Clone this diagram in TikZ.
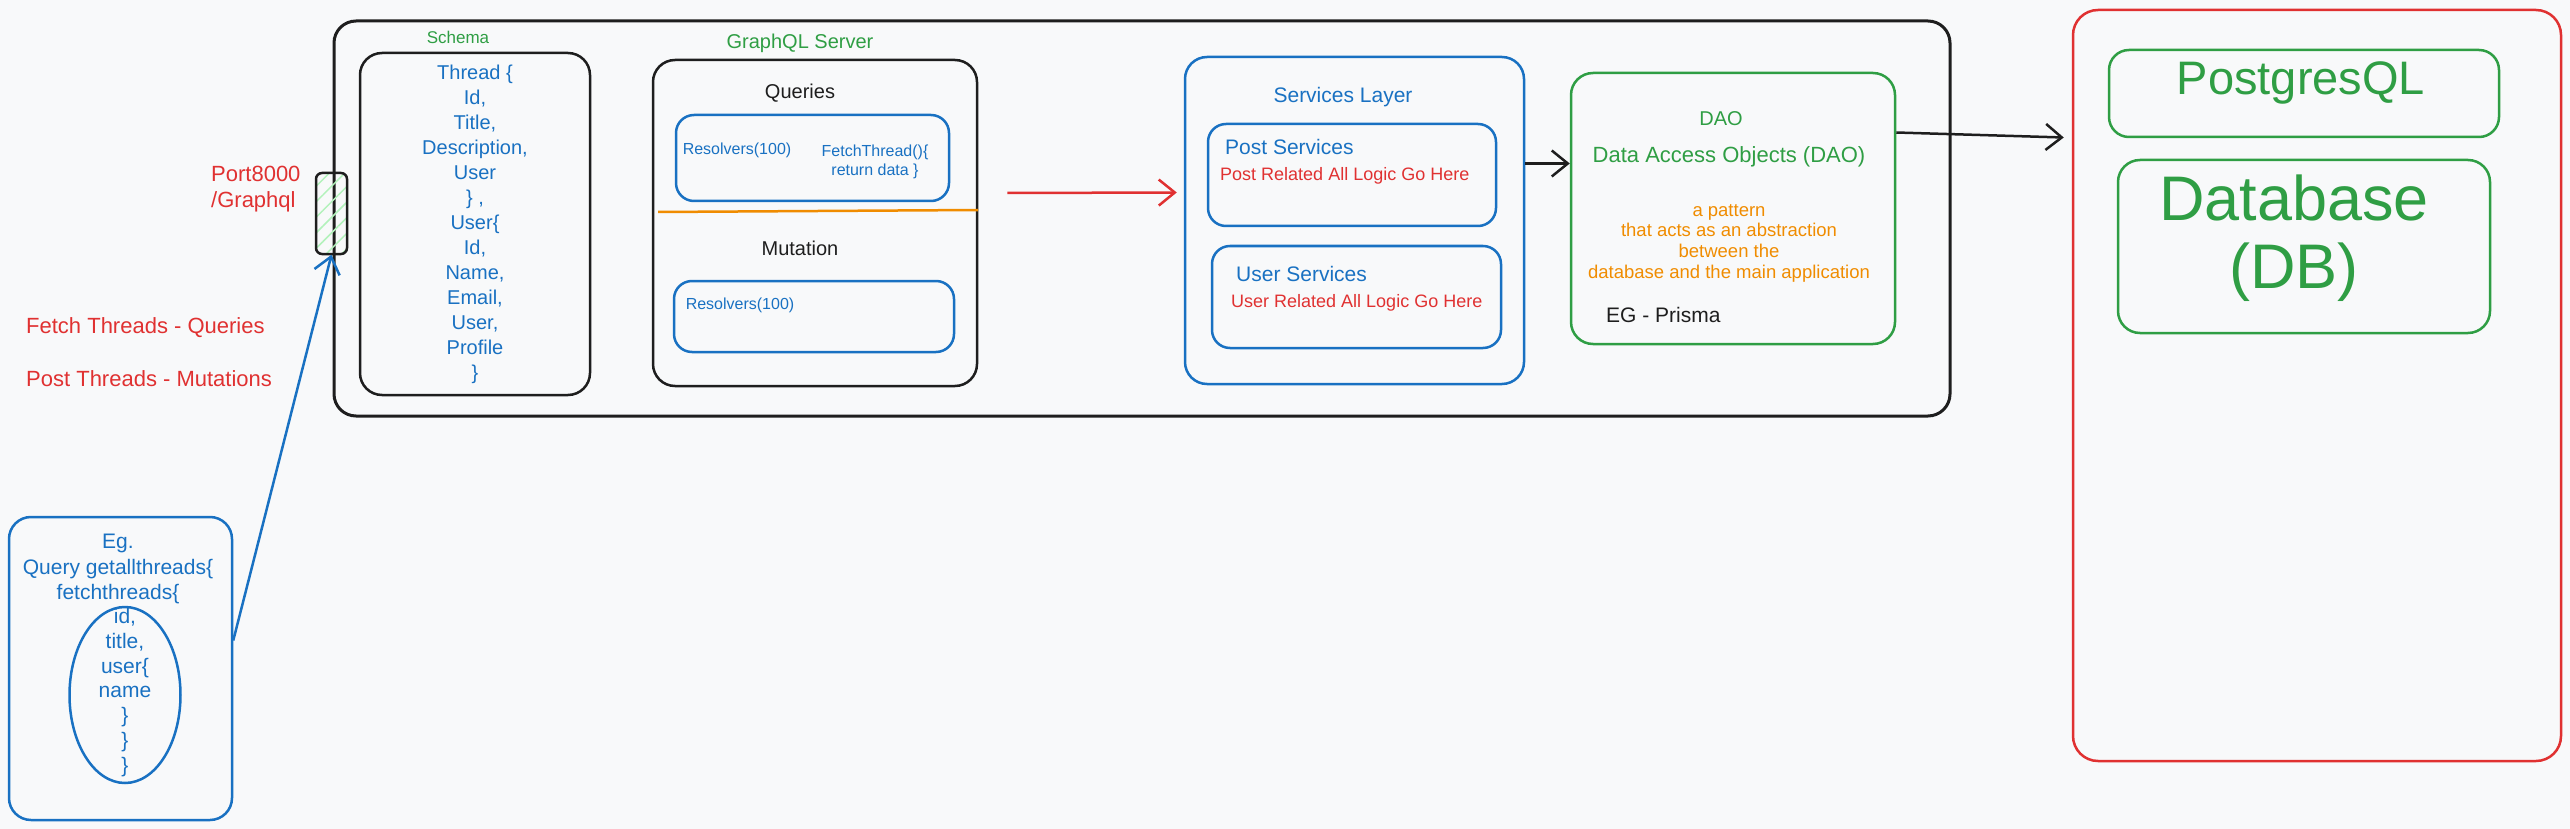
\documentclass[tikz,border=0pt]{standalone}
\usepackage{fontspec}
\setmainfont{Liberation Sans}
\usetikzlibrary{arrows.meta,shapes.geometric,patterns.meta}

\definecolor{inkblack}{HTML}{1E1E1E}
\definecolor{inkblue}{HTML}{1971C2}
\definecolor{inkred}{HTML}{E03131}
\definecolor{inkgreen}{HTML}{2F9E44}
\definecolor{inkorange}{HTML}{F08C00}
\definecolor{hatchgreen}{HTML}{B2F2BB}
\definecolor{paper}{HTML}{F8F9FA}

\tikzset{
	box/.style={draw, rounded corners=22pt, line width=2.5pt, inner sep=0pt},
	txt/.style={inner sep=0pt, align=center, font=\fontsize{20}{25}\selectfont},
	smalltxt/.style={inner sep=0pt, align=center, font=\fontsize{16}{19}\selectfont},
	link/.style={->, line width=2.5pt},
}

\begin{document}
\begin{tikzpicture}[x=1pt,y=-1pt,>={Straight Barb[length=16pt,width=26pt]}]
	%% paper
	\fill[paper] (0,0) rectangle (2570,829);
	\useasboundingbox (0,0) rectangle (2570,829);
	%% backend frame and port
	\node[box, draw=inkblack, line width=3pt, minimum width=1616pt, minimum height=395pt] (backend) at (1142,218.5) {};
	\node[box, draw=inkblack, rounded corners=6pt, pattern={Lines[angle=45,distance=11pt,line width=1.5pt]}, pattern color=hatchgreen, minimum width=31pt, minimum height=81pt] (port) at (331.5,213.5) {};
	\node[txt, inkred, anchor=west, align=left, font=\fontsize{22}{26}\selectfont] (portlbl) at (211,189) {Port8000\\/Graphql};
	\node[txt, inkred, anchor=west, font=\fontsize{22}{26}\selectfont] (fetchnote) at (26,328) {Fetch Threads - Queries};
	\node[txt, inkred, anchor=west, font=\fontsize{22}{26}\selectfont] (postnote) at (26,379) {Post Threads - Mutations};
	%% schema
	\node[txt, inkgreen, font=\fontsize{17}{20}\selectfont] (schemalbl) at (458,37) {Schema};
	\node[box, draw=inkblack, text=inkblue, txt, minimum width=230pt, minimum height=342pt] (schema) at (475,224) {Thread \{\\Id,\\Title,\\Description,\\User\\\} ,\\User\{\\Id,\\Name,\\Email,\\User,\\Profile\\\}};
	%% graphql server
	\node[txt, inkgreen] (gqllbl) at (800,43) {GraphQL Server};
	\node[box, draw=inkblack, minimum width=324pt, minimum height=326pt] (gql) at (815,223) {};
	\node[txt, inkblack] (querylbl) at (800,93) {Queries};
	\node[box, draw=inkblue, rounded corners=18pt, minimum width=273pt, minimum height=86pt] (querybox) at (812.5,158) {};
	\node[smalltxt, inkblue] (queryres) at (737,150) {Resolvers(100)};
	\node[smalltxt, inkblue] (fetchfn) at (875,162) {FetchThread()\{\\return data \}};
	\draw[inkorange, line width=2.5pt] (658,212) -- (978,210);
	\node[txt, inkblack] (mutlbl) at (800,248) {Mutation};
	\node[box, draw=inkblue, rounded corners=18pt, minimum width=280pt, minimum height=71pt] (mutbox) at (814,316.5) {};
	\node[smalltxt, inkblue] (mutres) at (740,305) {Resolvers(100)};
	%% services layer
	\node[box, draw=inkblue, minimum width=339pt, minimum height=327pt] (svc) at (1354.5,220.5) {};
	\node[txt, inkblue, font=\fontsize{21}{25}\selectfont] (svclbl) at (1343,97) {Services Layer};
	\node[box, draw=inkblue, rounded corners=18pt, minimum width=288pt, minimum height=102pt] (postsvc) at (1352,175) {};
	\node[txt, inkblue, anchor=west, font=\fontsize{21}{25}\selectfont] (postlbl) at (1225,147) {Post Services};
	\node[txt, inkred, anchor=west, font=\fontsize{18}{22}\selectfont] (postlogic) at (1220,176) {Post Related All Logic Go Here};
	\node[box, draw=inkblue, rounded corners=18pt, minimum width=289pt, minimum height=102pt] (usersvc) at (1356.5,297) {};
	\node[txt, inkblue, anchor=west, font=\fontsize{21}{25}\selectfont] (userlbl) at (1236,274) {User Services};
	\node[txt, inkred, anchor=west, font=\fontsize{18}{22}\selectfont] (userlogic) at (1231,303) {User Related All Logic Go Here};
	%% dao
	\node[box, draw=inkgreen, minimum width=324pt, minimum height=271pt] (dao) at (1733,208.5) {};
	\node[txt, inkgreen] (daolbl) at (1721,119) {DAO};
	\node[txt, inkgreen, font=\fontsize{22}{26}\selectfont] (daofull) at (1729,157) {Data Access Objects (DAO)};
	\node[txt, inkorange, font=\fontsize{18.5}{20.7}\selectfont] (daonote) at (1729,243) {a pattern\\that acts as an abstraction\\between the\\database and the main application};
	\node[txt, inkblack, anchor=west, font=\fontsize{21}{25}\selectfont] (daoeg) at (1606,315) {EG - Prisma};
	%% database side
	\node[box, draw=inkred, rounded corners=25pt, minimum width=488pt, minimum height=751pt] (dbzone) at (2317,385.5) {};
	\node[box, draw=inkgreen, rounded corners=20pt, minimum width=390pt, minimum height=87pt] (pg) at (2304,93.5) {};
	\node[txt, inkgreen, font=\fontsize{47}{50}\selectfont] (pglbl) at (2301,83) {PostgresQL};
	\node[box, draw=inkgreen, minimum width=372pt, minimum height=173pt] (db) at (2304,246.5) {};
	\node[txt, inkgreen, font=\fontsize{63}{68}\selectfont] (dblbl) at (2294,238.5) {Database\\(DB)};
	%% example query
	\node[box, draw=inkblue, minimum width=223pt, minimum height=303pt] (ex) at (120.5,668.5) {};
	\node[txt, inkblue, font=\fontsize{21}{25.5}\selectfont] (exhead) at (118,569) {Eg.\\Query getallthreads\{\\fetchthreads\{};
	\node[ellipse, draw=inkblue, line width=2.5pt, inner sep=0pt, minimum width=111pt, minimum height=176pt] (fields) at (125,695) {};
	\node[txt, inkblue, font=\fontsize{21}{24.8}\selectfont] (fieldtxt) at (125,692.5) {id,\\title,\\user\{\\name\\\}\\\}\\\}};
	%% connectors
	\draw[link, inkblue] ([yshift=28pt]ex.east) -- (port.south);
	\draw[link, inkred] ([xshift=29pt,yshift=30pt]gql.east) -- ([xshift=-7pt,yshift=28pt]svc.west);
	\draw[link, inkblack] ([yshift=57pt]svc.east) -- ([yshift=57pt]svc.east -| dao.west);
	\draw[link, inkblack] ([yshift=76pt]dao.east) -- ([xshift=-8pt,yshift=248pt]dbzone.west);
\end{tikzpicture}
\end{document}
